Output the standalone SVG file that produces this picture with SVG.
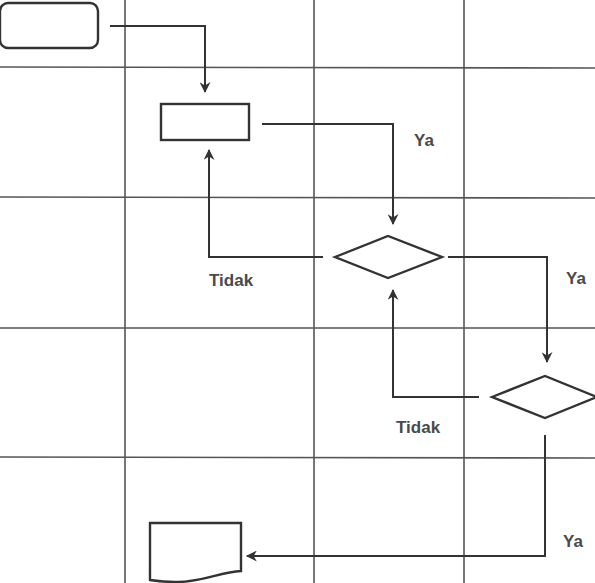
<svg xmlns="http://www.w3.org/2000/svg" width="595" height="583" viewBox="0 0 595 583">
<style>
.grid{stroke:#555;stroke-width:1.6;fill:none}
.shape{stroke:#333;stroke-width:2.4;fill:#fff}
.conn{stroke:#333;stroke-width:2;fill:none}
.lbl{font-family:"Liberation Sans",Arial,sans-serif;font-size:17px;font-weight:bold;fill:#4a4a4a}
</style>
<defs>
<marker id="arr" viewBox="0 0 10 10" refX="9" refY="5" markerWidth="13" markerHeight="11" orient="auto" markerUnits="userSpaceOnUse">
<path d="M0,0 L10,5 L0,10 L3,5 Z" fill="#333"/>
</marker>
</defs>
<rect width="595" height="583" fill="#fff"/>
<g id="grid">
<line class="grid" x1="125" y1="0" x2="125" y2="583"/>
<line class="grid" x1="314" y1="0" x2="314" y2="583"/>
<line class="grid" x1="464" y1="0" x2="464" y2="583"/>
<line class="grid" x1="0" y1="67" x2="595" y2="68"/>
<line class="grid" x1="0" y1="197" x2="595" y2="198"/>
<line class="grid" x1="0" y1="328" x2="595" y2="328"/>
<line class="grid" x1="0" y1="457" x2="595" y2="458"/>
</g>
<g id="connectors">
<path class="conn" d="M110,26 H205 V92" marker-end="url(#arr)"/>
<path class="conn" d="M262,124 H393 V224" marker-end="url(#arr)"/>
<path class="conn" d="M323,257 H209 V150" marker-end="url(#arr)"/>
<path class="conn" d="M448,257 H547 V362" marker-end="url(#arr)"/>
<path class="conn" d="M479,397 H393 V290" marker-end="url(#arr)"/>
<path class="conn" d="M545,435 V556 H247" marker-end="url(#arr)"/>
<text class="lbl" x="414" y="146">Ya</text>
<text class="lbl" x="566" y="284">Ya</text>
<text class="lbl" x="209" y="286">Tidak</text>
<text class="lbl" x="396" y="433">Tidak</text>
<text class="lbl" x="563" y="547">Ya</text>
</g>
<g id="start"><rect class="shape" x="0" y="3" width="98" height="45" rx="8"/></g>
<g id="process"><rect class="shape" x="161" y="104" width="88" height="36"/></g>
<g id="decision1"><polygon class="shape" points="335,257 388,236 442,257 388,278"/></g>
<g id="decision2"><polygon class="shape" points="492,397 545,376 597,397 545,418"/></g>
<g id="document"><path class="shape" d="M150,523 H241 V571 C220,572 200,583 175,582 C165,582 157,581 150,580 Z"/></g>
</svg>
